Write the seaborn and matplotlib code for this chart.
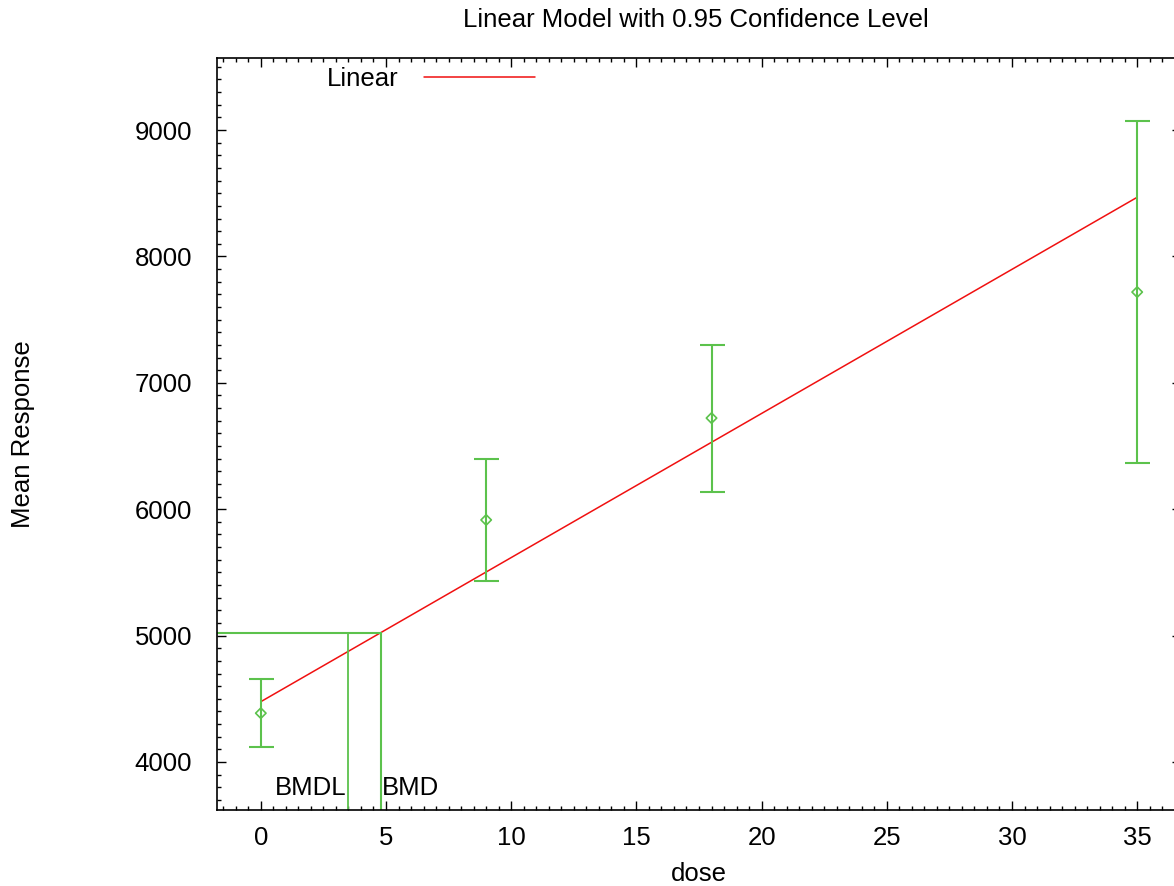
import matplotlib.pyplot as plt
import seaborn as sns
import pandas as pd
from matplotlib.ticker import MultipleLocator
from matplotlib.lines import Line2D

# observed means with 95% CI half-widths
dose = [0, 9, 18, 35]
mean_resp = [4386, 5915, 6721, 7718]
ci_half = [270, 483, 582, 1352]

# fitted linear model (end points)
fit_dose = [0, 35]
fit_resp = [4477, 8468]

# benchmark dose values
bmd = 4.79
bmdl = 3.48
bmr_resp = 5023

GREEN = "#5cc24c"
RED = "#f01010"
FS = 18.5


def make_plot():
    sns.set_theme(style="ticks", rc={
        "text.color": "black", "axes.labelcolor": "black",
        "xtick.color": "black", "ytick.color": "black",
        "axes.edgecolor": "black",
    })
    plt.rcParams["font.family"] = ["Liberation Sans", "DejaVu Sans"]

    fig = plt.figure(figsize=(11.74, 8.86), dpi=100)
    ax = fig.add_axes([217 / 1174, 76 / 886, 964 / 1174, 752 / 886])

    xlim = (-1.75, 36.75)
    ylim = (3620, 9570)

    df_fit = pd.DataFrame({"dose": fit_dose, "resp": fit_resp})
    sns.lineplot(data=df_fit, x="dose", y="resp", color=RED, lw=1.1, ax=ax)

    ax.errorbar(dose, mean_resp, yerr=ci_half, fmt="none", ecolor=GREEN,
                elinewidth=1.5, capsize=9, capthick=1.5)
    df_obs = pd.DataFrame({"dose": dose, "resp": mean_resp})
    sns.scatterplot(data=df_obs, x="dose", y="resp", marker="D", s=28,
                    facecolor="none", edgecolor=GREEN, linewidth=1.2, ax=ax)

    # BMD / BMDL guide lines
    ax.plot([xlim[0], bmd], [bmr_resp, bmr_resp], color=GREEN, lw=1.5)
    ax.plot([bmdl, bmdl], [ylim[0], bmr_resp], color=GREEN, lw=1.3)
    ax.plot([bmd, bmd], [ylim[0], bmr_resp], color=GREEN, lw=1.5)
    ax.text(bmdl - 0.05, 3794, "BMDL", ha="right", va="center", fontsize=FS)
    ax.text(bmd + 0.05, 3794, "BMD", ha="left", va="center", fontsize=FS)

    ax.set_xlim(xlim)
    ax.set_ylim(ylim)
    ax.xaxis.set_major_locator(MultipleLocator(5))
    ax.xaxis.set_minor_locator(MultipleLocator(0.5))
    ax.yaxis.set_major_locator(MultipleLocator(1000))
    ax.yaxis.set_minor_locator(MultipleLocator(100))
    ax.tick_params(which="both", direction="in", top=True, right=True,
                   width=1, color="black")
    ax.tick_params(which="major", length=6.5)
    ax.tick_params(which="minor", length=3.2)
    ax.tick_params(axis="x", labelsize=FS, pad=11.5)
    ax.tick_params(axis="y", labelsize=FS, pad=18)
    for s in ax.spines.values():
        s.set_linewidth(1.2)

    ax.set_xlabel("dose", fontsize=FS, labelpad=9)
    ax.set_ylabel("Mean Response", fontsize=FS)
    ax.yaxis.set_label_coords(-(217 - 35) / 964, 0.5)
    fig.suptitle("Linear Model with 0.95 Confidence Level", fontsize=FS,
                 x=(217 + 1174) / 2 / 1174, y=1 - 20 / 886, va="center")

    handle = Line2D([], [], color=RED, lw=1.1)
    ax.legend([handle], ["Linear"], loc="center left", markerfirst=False,
              bbox_to_anchor=(110 / 964, (810 - 79) / 752), frameon=False,
              fontsize=FS, handlelength=4.3, handletextpad=1.0,
              borderpad=0, borderaxespad=0)

    fig.savefig("out.png", dpi=100)
    plt.close()


if __name__ == "__main__":
    make_plot()
